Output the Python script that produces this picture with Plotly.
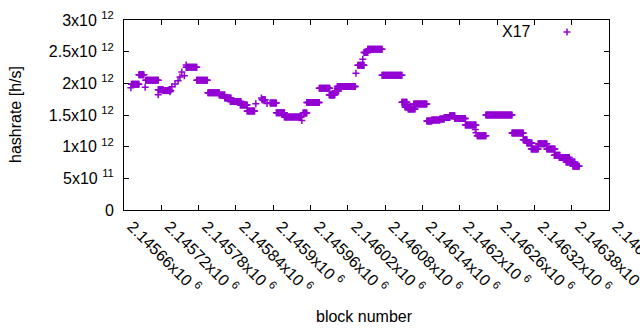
import plotly.graph_objects as go

# Runs of constant hashrate: first block, last block, hashrate [h/s]
seg_start = [2145671, 2145672, 2145684, 2145694, 2145695, 2145715, 2145715, 2145723, 2145734,
             2145737, 2145742, 2145747, 2145750, 2145753, 2145757, 2145760,
             2145760, 2145777, 2145795, 2145813, 2145822, 2145831, 2145847, 2145858,
             2145872, 2145881, 2145882, 2145890, 2145895, 2145905, 2145918, 2145946,
             2145948, 2145954, 2145974, 2145990, 2145999, 2146003, 2146033, 2146036,
             2146044, 2146046, 2146052, 2146075, 2146107, 2146112, 2146117, 2146126,
             2146147, 2146155, 2146168, 2146175, 2146184, 2146192, 2146209, 2146225,
             2146226, 2146228, 2146242, 2146284, 2146302, 2146308, 2146315, 2146326,
             2146340, 2146352, 2146360, 2146371, 2146382]
seg_end = [2145671, 2145684, 2145692, 2145694, 2145715, 2145715, 2145723, 2145735, 2145734,
           2145737, 2145742, 2145747, 2145750, 2145753, 2145757, 2145760,
           2145777, 2145794, 2145813, 2145822, 2145832, 2145848, 2145858, 2145870,
           2145872, 2145881, 2145887, 2145890, 2145905, 2145918, 2145945, 2145946,
           2145954, 2145974, 2145991, 2145999, 2146005, 2146032, 2146033, 2146046,
           2146044, 2146052, 2146075, 2146107, 2146115, 2146121, 2146128, 2146147,
           2146155, 2146168, 2146175, 2146184, 2146192, 2146209, 2146226, 2146225,
           2146226, 2146242, 2146284, 2146302, 2146308, 2146316, 2146326, 2146340,
           2146353, 2146361, 2146376, 2146385, 2146392]
seg_hashrate = [1.93e12, 1.987e12, 2.134e12, 1.94e12, 2.05e12, 1.82e12, 1.90e12, 1.887e12, 1.866e12,
                1.945e12, 1.99e12, 2.04e12, 2.10e12, 2.18e12, 2.12e12, 2.29e12,
                2.255e12, 2.05e12, 1.85e12, 1.815e12, 1.767e12, 1.713e12, 1.657e12, 1.562e12,
                1.677e12, 1.767e12, 1.74e12, 1.68e12, 1.688e12, 1.535e12, 1.468e12, 1.414e12,
                1.53e12, 1.698e12, 1.924e12, 1.814e12, 1.877e12, 1.95e12, 2.16e12, 2.286e12,
                2.38e12, 2.485e12, 2.538e12, 2.128e12, 1.703e12, 1.625e12, 1.593e12, 1.672e12,
                1.405e12, 1.42e12, 1.436e12, 1.461e12, 1.488e12, 1.446e12, 1.341e12, 1.27e12,
                1.22e12, 1.173e12, 1.499e12, 1.216e12, 1.11e12, 1.058e12, 0.964e12, 1.047e12,
                0.964e12, 0.863e12, 0.827e12, 0.759e12, 0.69e12]

x_tickvals = [2145660 + 60 * i for i in range(14)]
x_ticktext = ["2.14566", "2.14572", "2.14578", "2.14584", "2.1459", "2.14596", "2.14602",
              "2.14608", "2.14614", "2.1462", "2.14626", "2.14632", "2.14638", "2.14644"]
y_tickvals = [0, 0.5e12, 1e12, 1.5e12, 2e12, 2.5e12, 3e12]
y_ticktext = ["0", "5x10 <sup>11</sup>", "1x10 <sup>12</sup>", "1.5x10 <sup>12</sup>",
              "2x10 <sup>12</sup>", "2.5x10 <sup>12</sup>", "3x10 <sup>12</sup>"]

blocks, rates = [], []
for s, e, v in zip(seg_start, seg_end, seg_hashrate):
    for b in range(s, e + 1):
        blocks.append(b)
        rates.append(v)

COLOR = "#9400D3"
FONT = "Liberation Sans"

fig = go.Figure()
fig.add_trace(go.Scatter(
    x=blocks, y=rates, mode="markers", name="X17",
    marker=dict(symbol="cross-thin", size=5, line=dict(color=COLOR, width=1.5)),
    showlegend=False, hoverinfo="skip",
))

L, R, T, B = 124, 31, 20, 120
W, H = 640, 330
pw, ph = W - L - R, H - T - B

def px(x):
    return (x - L) / pw

def py(y):
    return (H - B - y) / ph

axis_common = dict(showline=True, linecolor="black", linewidth=1, mirror="ticks",
                   ticks="inside", ticklen=5, tickcolor="black", tickwidth=1,
                   showgrid=False, zeroline=False, automargin=False,
                   tickfont=dict(family=FONT, size=16, color="black"))

fig.update_layout(
    template="none",
    width=W, height=H,
    margin=dict(l=L, r=R, t=T, b=B),
    paper_bgcolor="white", plot_bgcolor="white",
    font=dict(family=FONT, size=16, color="black"),
    xaxis=dict(range=[2145660, 2146440], tickvals=x_tickvals,
               ticktext=[t + "x10 <sup>6</sup>" for t in x_ticktext],
               tickangle=45, ticklabeloverflow="allow", ticklabelshift=8,
               **axis_common),
    yaxis=dict(range=[0, 3e12], tickvals=y_tickvals, ticktext=y_ticktext,
               ticklabelstandoff=6, **axis_common),
    annotations=[
        dict(text="hashrate [h/s]", xref="paper", yref="paper", x=px(15), y=py(115),
             xanchor="center", yanchor="middle",
             textangle=-90, showarrow=False, font=dict(family=FONT, size=16)),
        dict(text="block number", xref="paper", yref="paper", x=px(364), y=py(316),
             xanchor="center", yanchor="middle",
             showarrow=False, font=dict(family=FONT, size=16)),
        dict(text="X17", xref="paper", yref="paper", x=px(533), y=py(32),
             xanchor="right", yanchor="middle", showarrow=False,
             font=dict(family=FONT, size=16)),
    ],
    shapes=[
        dict(type="line", xref="paper", yref="paper", x0=px(563.5), x1=px(570.5),
             y0=py(32), y1=py(32), line=dict(color=COLOR, width=1.5)),
        dict(type="line", xref="paper", yref="paper", x0=px(567), x1=px(567),
             y0=py(28.5), y1=py(35.5), line=dict(color=COLOR, width=1.5)),
    ],
)

fig.write_html("out.html", config={"displayModeBar": False},
               post_script="document.body.style.margin='0';document.body.style.overflow='hidden';")
